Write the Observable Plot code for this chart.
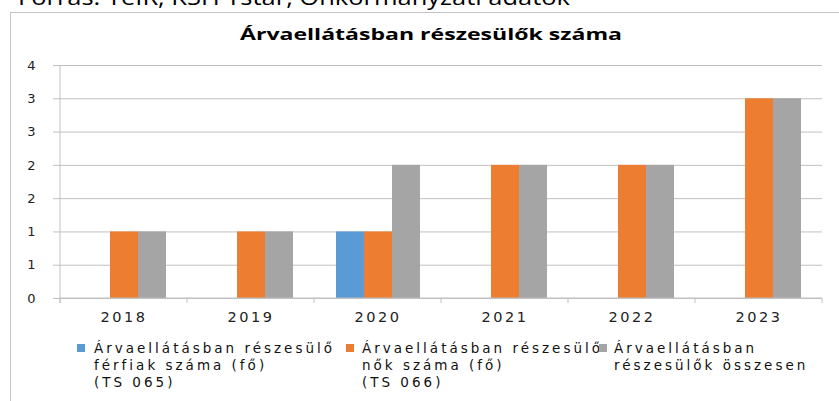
<!DOCTYPE html>
<html><head><meta charset="utf-8">
<script src="https://cdn.jsdelivr.net/npm/d3@7"></script>
<script src="https://cdn.jsdelivr.net/npm/@observablehq/plot@0.6"></script>
<style>
html,body{margin:0;padding:0;background:#fff;}
#wrap{position:relative;width:839px;height:401px;overflow:hidden;background:#fff;}
#source{position:absolute;left:18px;top:-17px;font:21px "Open Sans";color:#000;white-space:nowrap;transform-origin:left top;}
#box{position:absolute;left:10px;top:12px;width:900px;height:450px;border:1px solid #c4c4c4;}
#title{position:absolute;top:22px;left:240px;white-space:nowrap;font:bold 16.5px "Open Sans";color:#000;transform-origin:left top;}
#chart{position:absolute;left:0;top:0;}
.leg{position:absolute;font:13.5px "DejaVu Sans";letter-spacing:3px;line-height:17px;white-space:nowrap;color:#111;}
.sw{position:absolute;width:8px;height:8px;}
#chart g[aria-label="fx-axis tick label"] text{letter-spacing:2.5px;}
</style></head>
<body>
<div id="wrap">
  <div id="box"></div>
  <div id="source"></div>
  <div id="chart"></div>
  <div id="title"></div>
  <div id="legend"></div>
</div>
<script>
const sourceText = "Forrás: TeIR, KSH Tstar, Önkormányzati adatok";
const titleText = "Árvaellátásban részesülők száma";
const years = ["2018", "2019", "2020", "2021", "2022", "2023"];
const seriesNames = [
  "Árvaellátásban részesülő férfiak száma (fő) (TS 065)",
  "Árvaellátásban részesülő nők száma (fő) (TS 066)",
  "Árvaellátásban részesülők összesen"
];
const legendLines = [
  ["Árvaellátásban részesülő", "férfiak száma (fő)", "(TS 065)"],
  ["Árvaellátásban részesülő", "nők száma (fő)", "(TS 066)"],
  ["Árvaellátásban", "részesülők összesen"]
];
const maleCounts = [0, 0, 1, 0, 0, 0];
const femaleCounts = [1, 1, 1, 2, 2, 3];
const totalCounts = [1, 1, 2, 2, 2, 3];
const yTicks = [0, 0.5, 1, 1.5, 2, 2.5, 3, 3.5];
const yTickLabels = ["0", "1", "1", "2", "2", "3", "3", "4"];
const colors = ["#5b9bd5", "#ed7d31", "#a5a5a5"];

const seriesValues = [maleCounts, femaleCounts, totalCounts];
const rows = [];
years.forEach((yr, i) => seriesNames.forEach((s, j) => rows.push({year: yr, series: s, value: seriesValues[j][i]})));

const gridColor = "#c0c0c0";
const chart = Plot.plot({
  width: 839, height: 330,
  marginLeft: 59, marginRight: 16, marginTop: 65, marginBottom: 32,
  style: {background: "transparent", color: "#222"},
  fx: {domain: years, padding: 0, label: null},
  x: {domain: seriesNames, paddingInner: 0, paddingOuter: 0.73, axis: null},
  y: {domain: [0, 3.5], label: null},
  color: {domain: seriesNames, range: colors},
  marks: [
    Plot.gridY(yTicks, {stroke: gridColor, strokeOpacity: 1}),
    Plot.axisY(yTicks, {tickSize: 7, tickPadding: 18, stroke: gridColor, strokeOpacity: 1,
      tickFormat: d => yTickLabels[yTicks.indexOf(d)], fontSize: 13, fontFamily: "DejaVu Sans", fill: "#222", label: null}),
    Plot.barY(rows, {fx: "year", x: "series", y: "value", fill: "series"}),
    Plot.axisFx({anchor: "bottom", tickSize: 0, tickPadding: 13, fontSize: 14.5, fontFamily: "DejaVu Sans", fill: "#222", label: null})
  ]
});
document.getElementById("chart").appendChild(chart);

// axis lines and category boundary ticks from the library scales
const fxs = chart.scale("fx"), ys = chart.scale("y");
const svg = d3.select(chart);
const y0 = ys.apply(0), yTop = ys.apply(yTicks[yTicks.length - 1]);
const bounds = years.map(y => fxs.apply(y)).concat([fxs.apply(years[years.length - 1]) + fxs.bandwidth]);
const g = svg.append("g").attr("stroke", gridColor).attr("stroke-width", 1);
bounds.forEach(x => g.append("line").attr("x1", x).attr("x2", x).attr("y1", y0).attr("y2", y0 + 5));
g.append("line").attr("x1", bounds[0]).attr("x2", bounds[0]).attr("y1", yTop).attr("y2", y0 + 5);
g.append("line").attr("x1", bounds[0]).attr("x2", bounds[bounds.length - 1]).attr("y1", y0).attr("y2", y0);

// title and source, stretched like the reference
function fit(el, text, target) {
  el.textContent = text;
  const w = el.getBoundingClientRect().width;
  el.style.transform = `scaleX(${target / w})`;
}
fit(document.getElementById("source"), sourceText, 552);
fit(document.getElementById("title"), titleText, 382);

// legend
const legend = document.getElementById("legend");
const swX = [77, 346, 599], txX = [94, 362, 614];
legendLines.forEach((lines, j) => {
  const sw = document.createElement("div");
  sw.className = "sw";
  sw.style.left = swX[j] + "px"; sw.style.top = "344px"; sw.style.background = colors[j];
  legend.appendChild(sw);
  const t = document.createElement("div");
  t.className = "leg";
  t.style.left = txX[j] + "px"; t.style.top = "340px";
  t.innerHTML = lines.join("<br>");
  legend.appendChild(t);
});
</script>
</body></html>
